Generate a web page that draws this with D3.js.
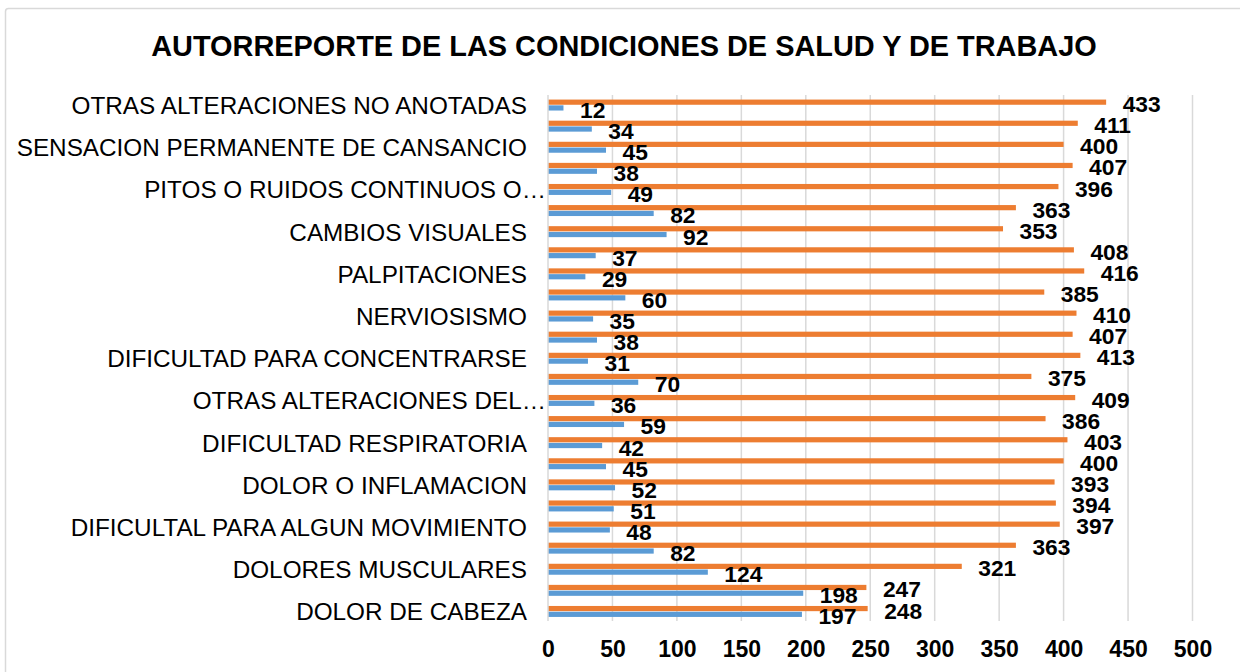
<!DOCTYPE html>
<html>
<head>
<meta charset="utf-8">
<script src="https://cdn.jsdelivr.net/npm/d3@7/dist/d3.min.js"></script>
<style>
  html, body { margin: 0; padding: 0; background: #fff; }
  svg { display: block; font-family: "Liberation Sans", Arial, sans-serif; }
</style>
</head>
<body>
<svg id="chart" width="1240" height="672"></svg>
<script>
// Categories, top to bottom (only every other name is shown on the axis)
const categories = [
  "OTRAS ALTERACIONES NO ANOTADAS", "",
  "SENSACION PERMANENTE DE CANSANCIO", "",
  "PITOS O RUIDOS CONTINUOS O…", "",
  "CAMBIOS VISUALES", "",
  "PALPITACIONES", "",
  "NERVIOSISMO", "",
  "DIFICULTAD PARA CONCENTRARSE", "",
  "OTRAS ALTERACIONES DEL…", "",
  "DIFICULTAD RESPIRATORIA", "",
  "DOLOR O INFLAMACION", "",
  "DIFICULTAL PARA ALGUN MOVIMIENTO", "",
  "DOLORES MUSCULARES ", "",
  "DOLOR DE CABEZA"
];
const orangeValues = [433, 411, 400, 407, 396, 363, 353, 408, 416, 385, 410, 407, 413,
                      375, 409, 386, 403, 400, 393, 394, 397, 363, 321, 247, 248];
const blueValues   = [12, 34, 45, 38, 49, 82, 92, 37, 29, 60, 35, 38, 31,
                      70, 36, 59, 42, 45, 52, 51, 48, 82, 124, 198, 197];
const xTicks = [0, 50, 100, 150, 200, 250, 300, 350, 400, 450, 500];
const title = "AUTORREPORTE DE LAS CONDICIONES DE SALUD Y DE TRABAJO";

const series = [
  { key: "orange", values: orangeValues, color: "#ED7D31" },
  { key: "blue", values: blueValues, color: "#5B9BD5" }
];

const svg = d3.select("#chart");
const plot = { left: 548, right: 1192.5, top: 94.5, bottom: 622 };

// border
svg.append("rect")
  .attr("x", 5.5).attr("y", 8.5)
  .attr("width", 1260).attr("height", 700)
  .attr("rx", 3)
  .attr("fill", "#fff")
  .attr("stroke", "#D9D9D9").attr("stroke-width", 1.5);

const x = d3.scaleLinear().domain([0, 500]).range([plot.left, plot.right]);
const idx = d3.range(categories.length);
const y0 = d3.scaleBand().domain(idx).range([plot.top, plot.bottom])
  .paddingInner(0.48).paddingOuter(0.24);
const y1 = d3.scaleBand().domain(series.map(s => s.key))
  .range([0, y0.bandwidth()]).paddingInner(0.1);

// gridlines
svg.append("g").selectAll("line")
  .data(xTicks.slice(1))
  .join("line")
  .attr("x1", d => x(d)).attr("x2", d => x(d))
  .attr("y1", plot.top + 0.5).attr("y2", plot.bottom - 1)
  .attr("stroke", "#D9D9D9").attr("stroke-width", 1.5);

// bars
series.forEach(s => {
  svg.append("g").selectAll("rect")
    .data(idx)
    .join("rect")
    .attr("x", x(0))
    .attr("y", i => y0(i) + y1(s.key))
    .attr("width", i => x(s.values[i]) - x(0))
    .attr("height", y1.bandwidth())
    .attr("fill", s.color);
});

// vertical axis line
svg.append("line")
  .attr("x1", x(0)).attr("x2", x(0))
  .attr("y1", plot.top + 0.5).attr("y2", plot.bottom - 1)
  .attr("stroke", "#D9D9D9").attr("stroke-width", 1.5);

// data labels
series.forEach(s => {
  svg.append("g").selectAll("text")
    .data(idx)
    .join("text")
    .attr("x", i => x(s.values[i]) + 16.5)
    .attr("y", i => y0(i) + y1(s.key) + y1.bandwidth() / 2 + 2)
    .attr("dominant-baseline", "central")
    .attr("font-size", 22.8)
    .attr("font-weight", "bold")
    .attr("fill", "#000")
    .text(i => s.values[i]);
});

// category labels
svg.append("g").selectAll("text")
  .data(idx.filter(i => categories[i] !== ""))
  .join("text")
  .attr("x", i => categories[i].endsWith("…") ? x(0) - 2 : x(0) - 21)
  .attr("y", i => y0(i) + y0.bandwidth() / 2 + 0.5)
  .attr("text-anchor", "end")
  .attr("dominant-baseline", "central")
  .attr("font-size", 24.3)
  .attr("fill", "#000")
  .text(i => categories[i].trimEnd());

// x axis tick labels
const xAxis = d3.axisBottom(x).tickValues(xTicks).tickSize(0).tickPadding(0);
const gx = svg.append("g").attr("transform", `translate(0, ${plot.bottom})`).call(xAxis);
gx.select(".domain").remove();
gx.selectAll("text")
  .attr("y", 35).attr("dy", 0)
  .attr("font-size", 23)
  .attr("font-weight", "bold")
  .attr("font-family", "\"Liberation Sans\", Arial, sans-serif")
  .attr("fill", "#000");

// title
svg.append("text")
  .attr("x", 624).attr("y", 56)
  .attr("text-anchor", "middle")
  .attr("font-size", 28.9)
  .attr("font-weight", "bold")
  .attr("fill", "#000")
  .text(title);
</script>
</body>
</html>
